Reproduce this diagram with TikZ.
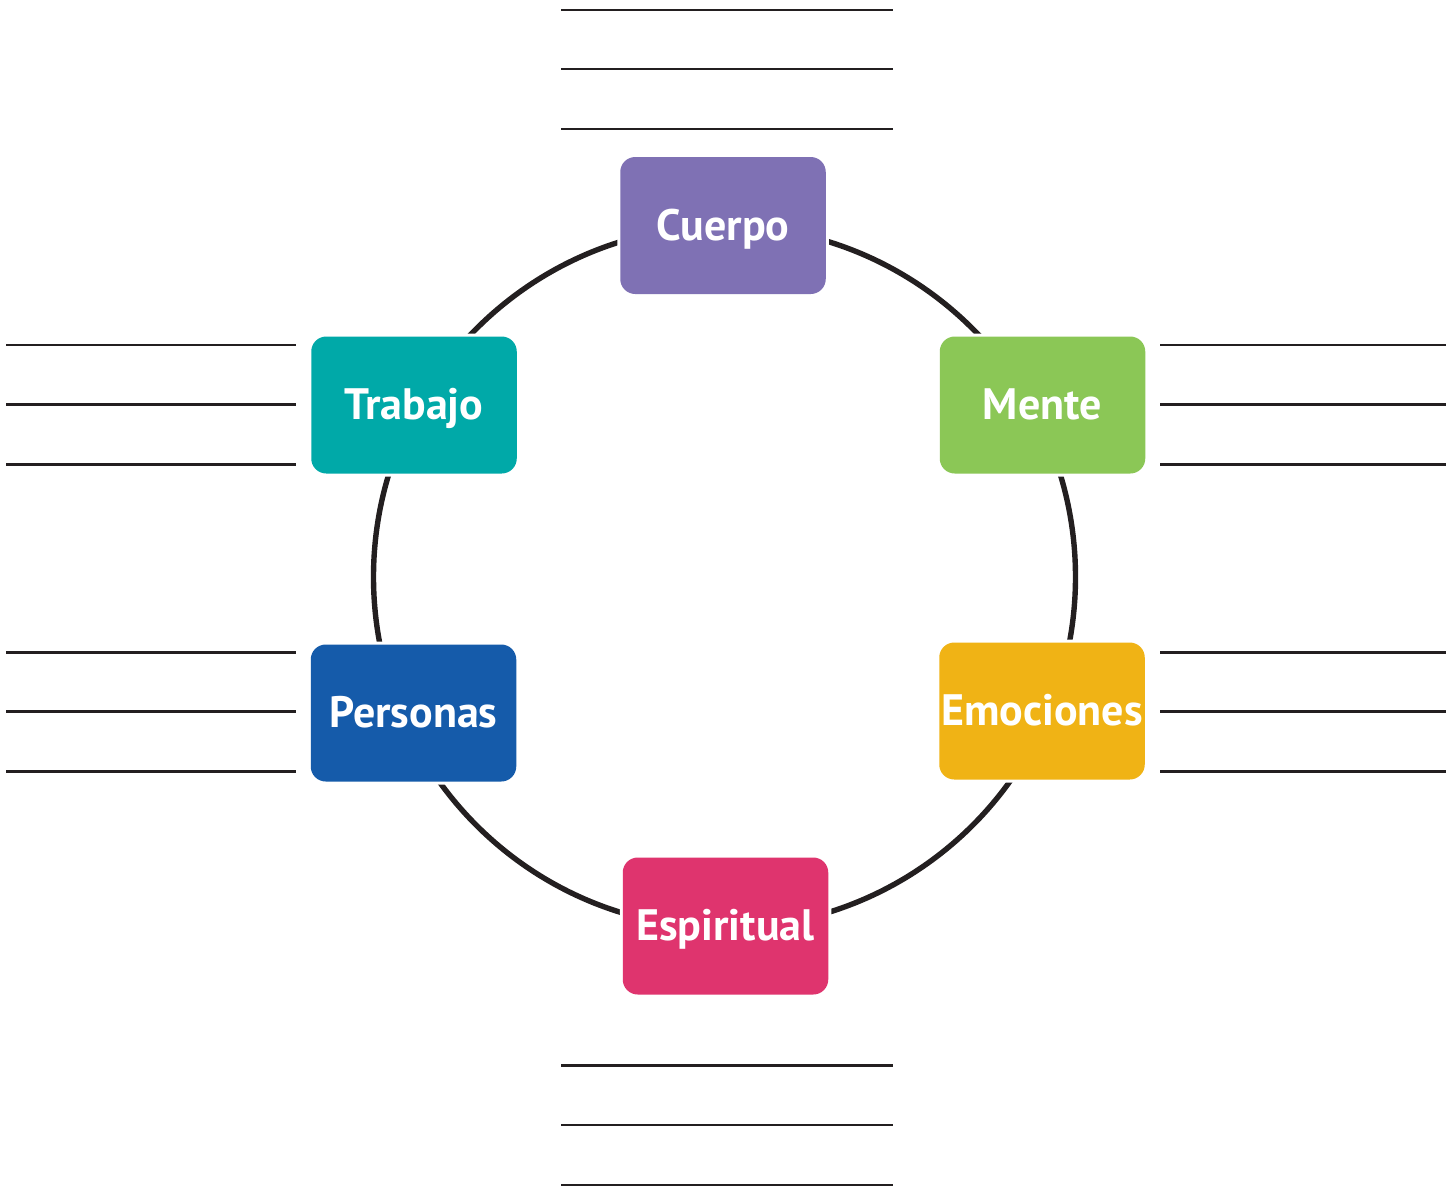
\documentclass[tikz,border=0pt]{standalone}
\usepackage{fontspec}
\setmainfont{PT Sans}
\definecolor{cpurple}{HTML}{7F71B4}
\definecolor{cteal}{HTML}{00A9A8}
\definecolor{cgreen}{HTML}{8BC756}
\definecolor{cblue}{HTML}{155BAA}
\definecolor{cyellow}{HTML}{F0B315}
\definecolor{cpink}{HTML}{DF346E}
\definecolor{ink}{HTML}{231F20}
\begin{document}
\begin{tikzpicture}[x=0.5pt,y=-0.5pt,
  area/.style={rectangle, rounded corners=7.5pt, minimum width=102.75pt, minimum height=68.5pt,
    inner sep=0pt, text height=14.5pt, text depth=0pt, text=white, font=\fontsize{22}{26}\selectfont\bfseries,
    preaction={draw=white, line width=3pt}},
  ruling/.style={draw=ink, line width=1.3pt},
  ring/.style={circle, draw=ink, line width=2.7pt, minimum size=351pt, inner sep=0pt}
]
\useasboundingbox (0,0) rectangle (1452,1190);
\node[ring] (circ) at (724.5,577) {};
\node[area, fill=cpurple] (cuerpo) at (723,225.5) {Cuerpo};
\node[area, fill=cteal] (trabajo) at (414,405) {Trabajo};
\node[area, fill=cgreen] (mente) at (1042.5,405) {Mente};
\node[area, fill=cblue] (personas) at (413.5,713) {Personas};
\node[area, fill=cyellow] (emociones) at (1042,711) {Emociones};
\node[area, fill=cpink] (espiritual) at (725.5,926) {Espiritual};
% writing lines
\foreach \yy [count=\i] in {10,69,129}{
  \coordinate (ta\i) at (561,\yy); \coordinate (tb\i) at (893,\yy);
  \draw[ruling] (ta\i) -- (tb\i);}
\foreach \yy [count=\i] in {1065.5,1125,1185}{
  \coordinate (ba\i) at (561,\yy); \coordinate (bb\i) at (893,\yy);
  \draw[ruling] (ba\i) -- (bb\i);}
\foreach \yy [count=\i] in {345,404.5,464.3,652.3,711.7,771.7}{
  \coordinate (la\i) at (6,\yy); \coordinate (lb\i) at (296,\yy);
  \draw[ruling] (la\i) -- (lb\i);
  \coordinate (ra\i) at (1160,\yy); \coordinate (rb\i) at (1446,\yy);
  \draw[ruling] (ra\i) -- (rb\i);}
\end{tikzpicture}
\end{document}
